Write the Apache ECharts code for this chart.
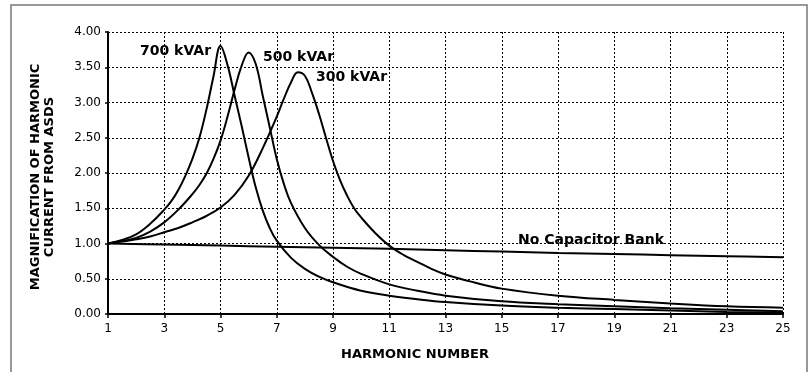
<!DOCTYPE html>
<html>
<head>
<meta charset="utf-8">
<script src="https://cdn.jsdelivr.net/npm/echarts@6/dist/echarts.min.js"></script>
<style>
  html, body { margin: 0; padding: 0; background: #fff; }
  #chart { width: 810px; height: 372px; }
</style>
</head>
<body>
<div id="chart"></div>
<script>
// values
const x700 = [1, 1.5, 2, 2.5, 3, 3.25, 3.5, 3.75, 4, 4.25, 4.5, 4.75, 5, 5.25, 5.5, 5.75, 6, 6.25, 6.5, 6.75, 7, 7.5, 8, 8.5, 9, 10, 11, 12, 13, 15, 17, 19, 21, 23, 25];
const y700 = [1.0, 1.05, 1.13, 1.28, 1.48, 1.6, 1.76, 1.96, 2.2, 2.5, 2.9, 3.37, 3.8, 3.53, 3.1, 2.67, 2.22, 1.8, 1.47, 1.22, 1.04, 0.8, 0.64, 0.53, 0.45, 0.33, 0.26, 0.21, 0.17, 0.12, 0.09, 0.07, 0.05, 0.03, 0.02];

const x500 = [1, 1.5, 2, 2.5, 3, 3.5, 4, 4.25, 4.5, 4.75, 5, 5.25, 5.5, 5.75, 6, 6.25, 6.5, 6.75, 7, 7.25, 7.5, 8, 8.5, 9, 9.5, 10, 11, 12, 13, 15, 17, 19, 21, 23, 25];
const y500 = [1.0, 1.03, 1.08, 1.17, 1.3, 1.48, 1.7, 1.83, 1.99, 2.2, 2.46, 2.8, 3.18, 3.52, 3.71, 3.55, 3.1, 2.65, 2.2, 1.85, 1.58, 1.22, 0.98, 0.81, 0.67, 0.57, 0.42, 0.33, 0.26, 0.18, 0.14, 0.11, 0.08, 0.06, 0.04];

const x300 = [1, 1.5, 2, 2.5, 3, 3.5, 4, 4.5, 5, 5.5, 6, 6.5, 7, 7.25, 7.5, 7.75, 8, 8.25, 8.5, 8.75, 9, 9.25, 9.5, 9.75, 10, 10.5, 11, 11.5, 12, 12.5, 13, 14, 15, 17, 19, 21, 23, 25];
const y300 = [1.0, 1.03, 1.06, 1.1, 1.16, 1.22, 1.3, 1.39, 1.51, 1.69, 1.96, 2.35, 2.8, 3.05, 3.28, 3.43, 3.38, 3.14, 2.84, 2.5, 2.17, 1.9, 1.68, 1.5, 1.37, 1.15, 0.97, 0.84, 0.74, 0.64, 0.56, 0.45, 0.36, 0.26, 0.2, 0.15, 0.11, 0.09];

const xNoCap = [1, 3, 5, 7, 9, 11, 13, 15, 17, 19, 21, 23, 25];
const yNoCap = [1.0, 0.985, 0.97, 0.955, 0.94, 0.925, 0.905, 0.885, 0.865, 0.85, 0.835, 0.82, 0.805];

const xTicks = [1, 25, 2];      // min, max, step
const yTicks = [0, 4, 0.5];

const pairs = (xs, ys) => xs.map((x, i) => [x, ys[i]]);

const chart = echarts.init(document.getElementById('chart'));
const curve = (name, xs, ys) => ({
  name: name,
  type: 'line',
  smooth: 0.4,
  symbol: 'none',
  lineStyle: { color: '#000', width: 2 },
  data: pairs(xs, ys)
});
const dotted = { color: '#000', width: 1, type: [2, 2] };
const bold = { fontFamily: 'DejaVu Sans', fontWeight: 'bold', fill: '#000' };

chart.setOption({
  animation: false,
  backgroundColor: '#fff',
  grid: { left: 108, right: 27, top: 32, bottom: 58 },
  xAxis: {
    type: 'value',
    min: xTicks[0], max: xTicks[1], interval: xTicks[2],
    axisLine: { lineStyle: { color: '#000', width: 2 } },
    axisTick: { show: true, length: 4, lineStyle: { color: '#000', width: 1.5 } },
    axisLabel: { color: '#000', fontFamily: 'DejaVu Sans', fontSize: 12, margin: 9 },
    splitLine: { show: true, lineStyle: dotted }
  },
  yAxis: {
    type: 'value',
    min: yTicks[0], max: yTicks[1], interval: yTicks[2],
    axisLine: { show: true, lineStyle: { color: '#000', width: 2 } },
    axisTick: { show: true, length: 3, lineStyle: { color: '#000', width: 1.5 } },
    axisLabel: {
      color: '#000', fontFamily: 'DejaVu Sans', fontSize: 12, margin: 7,
      formatter: v => v.toFixed(2)
    },
    splitLine: { show: true, lineStyle: dotted }
  },
  series: [
    curve('700 kVAr', x700, y700),
    curve('500 kVAr', x500, y500),
    curve('300 kVAr', x300, y300),
    curve('No Capacitor Bank', xNoCap, yNoCap)
  ],
  graphic: [
    { type: 'rect', shape: { x: 11, y: 5, width: 796, height: 380 },
      style: { fill: 'none', stroke: '#777', lineWidth: 1.5 }, silent: true },
    { type: 'text', left: 140, top: 44, style: { ...bold, text: '700 kVAr', fontSize: 14 } },
    { type: 'text', left: 263, top: 50, style: { ...bold, text: '500 kVAr', fontSize: 14 } },
    { type: 'text', left: 316, top: 70, style: { ...bold, text: '300 kVAr', fontSize: 14 } },
    { type: 'text', left: 518, top: 233, style: { ...bold, text: 'No Capacitor Bank', fontSize: 14 } },
    { type: 'text', x: 415, y: 355,
      style: { ...bold, text: 'HARMONIC NUMBER', fontSize: 13, align: 'center', verticalAlign: 'middle' } },
    { type: 'text', x: 43, y: 177, rotation: Math.PI / 2,
      style: { ...bold, text: 'MAGNIFICATION OF HARMONIC\nCURRENT FROM ASDS', fontSize: 13,
        lineHeight: 14, align: 'center', verticalAlign: 'middle' } }
  ]
});
</script>
</body>
</html>
